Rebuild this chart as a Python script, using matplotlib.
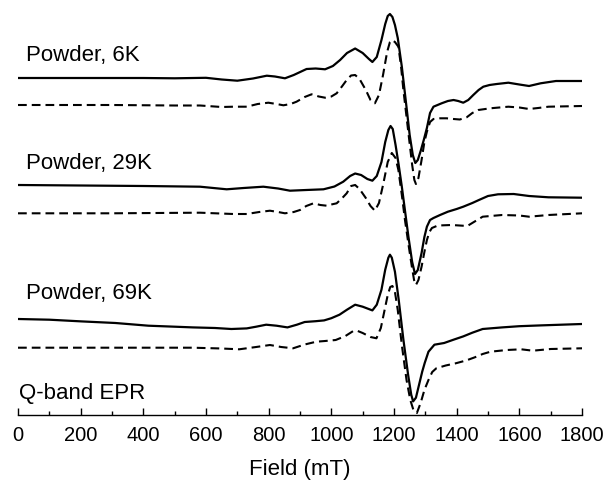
import numpy as np
import matplotlib
matplotlib.use("Agg")
import matplotlib.pyplot as plt

plt.rcParams['font.family'] = ['Liberation Sans', 'DejaVu Sans']

# Q-band EPR spectra, intensity in arbitrary units relative to each trace baseline
# solid = experiment, dashed = simulation

# Powder, 6K
field_6k = [0, 100, 200, 300, 400, 500, 560, 600, 650, 700, 750, 794, 820, 852, 880, 921, 950, 980,
            1005, 1028, 1050, 1076, 1100, 1120, 1131, 1145, 1160, 1172, 1180, 1187, 1195, 1203, 1212,
            1225, 1241, 1250, 1260, 1268, 1276, 1286, 1295, 1305, 1315, 1326, 1352, 1372, 1390, 1405,
            1421, 1437, 1453, 1470, 1485, 1505, 1528, 1565, 1600, 1631, 1668, 1717, 1800]
exp_6k = [0, 0, 0, 0, 0, -0.3, 0, 0.2, -1.5, -2.7, -0.5, 2.3, 1.5, -0.3, 3, 9, 9.5, 8.7,
          12, 18, 25, 29.5, 25, 19, 16, 21, 38, 54, 62, 64, 61, 53, 40,
          11.3, -32, -57, -77, -85, -82, -72, -62, -50, -35, -28.7, -25.3, -23, -22, -23,
          -24.7, -22, -17, -12, -8.7, -7, -6, -4.7, -6.5, -8, -5.3, -3, -3]

sim_field_6k = [0, 300, 500, 581, 650, 687, 730, 765, 799, 825, 847, 870, 889, 915, 937, 960, 980,
                1000, 1017, 1035, 1049, 1063, 1076, 1090, 1110, 1125, 1139, 1152, 1165, 1178, 1187,
                1193, 1203, 1214, 1222, 1230, 1246, 1258, 1265, 1270, 1278, 1288, 1297, 1305, 1315,
                1326, 1347, 1368, 1390, 1410, 1432, 1450, 1469, 1507, 1565, 1600, 1631, 1660, 1693, 1800]
sim_6k = [0, 0, -0.5, -0.5, -2, -1.7, -1.7, 1, 2.3, 1, -0.3, 1, 3.3, 8, 10.7, 8.5, 7.3,
          8.5, 11.7, 19, 25, 29.5, 30, 26, 15, 5, 1.7, 10, 30, 53, 63,
          65, 63, 58.3, 40, 15, -28, -60, -75, -79, -73, -55, -37, -26.7, -17,
          -14, -13.3, -13.3, -14, -14.5, -12.3, -8, -5, -3.3, -1.7, -2.5, -4, -3, -1.7, -1]

# Powder, 29K
field_29k = [0, 200, 400, 581, 666, 720, 783, 830, 868, 920, 975, 1010, 1038, 1060, 1076, 1095,
             1115, 1131, 1145, 1160, 1172, 1182, 1189, 1196, 1205, 1215, 1225, 1246, 1258, 1267,
             1276, 1288, 1297, 1305, 1315, 1326, 1347, 1372, 1400, 1421, 1450, 1471, 1500, 1532,
             1582, 1631, 1693, 1800]
exp_29k = [0, -0.5, -1, -1.7, -4.3, -3, -1.7, -3.5, -5.7, -5, -4.3, -1.5, 3.3, 9, 11.5, 10,
           6, 4.3, 9, 23, 43, 55, 59, 56, 40, 20, -1.7, -51.7, -77, -89,
           -85, -68, -52, -41.7, -35, -33, -30, -26.7, -24, -21.7, -18, -15, -11, -9.3,
           -9, -11, -12.3, -12.7]

sim_field_29k = [0, 300, 581, 687, 730, 770, 804, 830, 852, 880, 900, 920, 943, 965, 985, 1000,
                 1017, 1035, 1049, 1063, 1076, 1090, 1110, 1125, 1139, 1152, 1165, 1180, 1193, 1205,
                 1214, 1225, 1235, 1247, 1257, 1264, 1270, 1278, 1288, 1297, 1305, 1313, 1321, 1340,
                 1384, 1434, 1455, 1483, 1545, 1600, 1631, 1693, 1800]
sim_29k = [-0.3, -0.3, 0.3, -1, -1, 1, 2.3, 1, -0.3, 1, 3, 7, 9.7, 8, 7.3, 8.5,
           9.7, 15, 19.7, 27, 28, 24, 15, 7, 2.3, 10, 28, 51, 60, 55,
           43, 18, -7, -33, -53.7, -67, -72, -67, -53.7, -39, -27, -19, -15, -12.5,
           -12, -13, -9, -3.7, -2, -2.5, -3.7, -2, -0.3]

# Powder, 69K
field_69k = [0, 100, 203, 311, 416, 500, 558, 629, 681, 730, 760, 792, 825, 860, 890, 915, 950,
             977, 1000, 1026, 1050, 1076, 1100, 1131, 1145, 1160, 1172, 1182, 1187, 1193, 1203,
             1215, 1230, 1245, 1255, 1261, 1270, 1280, 1290, 1298, 1310, 1329, 1360, 1390, 1421,
             1450, 1483, 1545, 1600, 1668, 1800]
exp_69k = [0, -0.7, -2.4, -4, -6.7, -7.7, -8.4, -9, -10, -9.4, -7.7, -5.7, -6.7, -8.4, -5.7, -3, -2.2,
           -1.4, 0.8, 4.3, 9.3, 14.3, 12.3, 8.6, 14.3, 29.3, 49.3, 61.3, 64.3, 61.3, 47.3,
           19.3, -20.7, -55.7, -75.7, -82.4, -78.7, -65.7, -52.7, -44, -32.7, -25.7, -24, -20.7, -17.4,
           -13.7, -10, -8.4, -7.2, -6.4, -5]

sim_field_69k = [0, 300, 558, 650, 706, 760, 804, 840, 878, 915, 952, 980, 1014, 1045, 1070, 1082,
                 1100, 1125, 1144, 1158, 1170, 1180, 1188, 1195, 1203, 1212, 1225, 1240, 1252, 1262,
                 1273, 1285, 1297, 1310, 1322, 1335, 1365, 1397, 1430, 1458, 1483, 1508, 1560, 1606,
                 1643, 1700, 1800]
sim_69k = [0.3, 0.3, 0.3, -0.5, -1.3, 1, 3, 1, -0.3, 3.5, 6.3, 7, 8, 12, 17, 17.3,
           15, 11, 9.7, 20, 38, 53, 61, 62, 56, 38, 3, -32, -52, -62,
           -65, -55, -42, -32, -24, -20.3, -17.5, -15.3, -12.5, -9.3, -6, -3.7, -2, -1.3,
           -2.7, -1, -0.3]

# trace baselines (screen layout), labels
baselines = {'6K': (-78, -105), '29K': (-185, -213), '69K': (-319, -348)}
labels = ['Powder, 6K', 'Powder, 29K', 'Powder, 69K']
label_y = [-55, -164, -294]

fig = plt.figure(figsize=(6.06, 4.84), dpi=100)
ax = fig.add_axes([18 / 606, 69 / 484, 564 / 606, 415 / 484])

traces = [
    (field_6k, exp_6k, sim_field_6k, sim_6k, baselines['6K']),
    (field_29k, exp_29k, sim_field_29k, sim_29k, baselines['29K']),
    (field_69k, exp_69k, sim_field_69k, sim_69k, baselines['69K']),
]
for fx, ey, sx, sy, (b_exp, b_sim) in traces:
    ax.plot(fx, np.array(ey) + b_exp, color='black', lw=1.6, solid_joinstyle='round')
    ax.plot(sx, np.array(sy) + b_sim, color='black', lw=1.5, ls=(0, (4.2, 2.4)))

for txt, ty in zip(labels, label_y):
    ax.text(25, ty, txt, fontsize=16, va='center', ha='left')
ax.text(2, -393, 'Q-band EPR', fontsize=16, va='center', ha='left')

ax.set_xlim(0, 1800)
ax.set_ylim(-415, 0)
ax.set_xticks(np.arange(0, 1801, 200))
ax.set_xticks(np.arange(0, 1801, 100), minor=True)
ax.tick_params(axis='x', which='major', direction='in', length=5, width=1, labelsize=14.5, pad=8)
ax.tick_params(axis='x', which='minor', direction='in', length=3, width=1)
ax.set_yticks([])
for side in ['top', 'left', 'right']:
    ax.spines[side].set_visible(False)
ax.spines['bottom'].set_linewidth(1)
ax.set_xlabel('Field (mT)', fontsize=16, labelpad=10)

fig.savefig('out.png', dpi=100)
